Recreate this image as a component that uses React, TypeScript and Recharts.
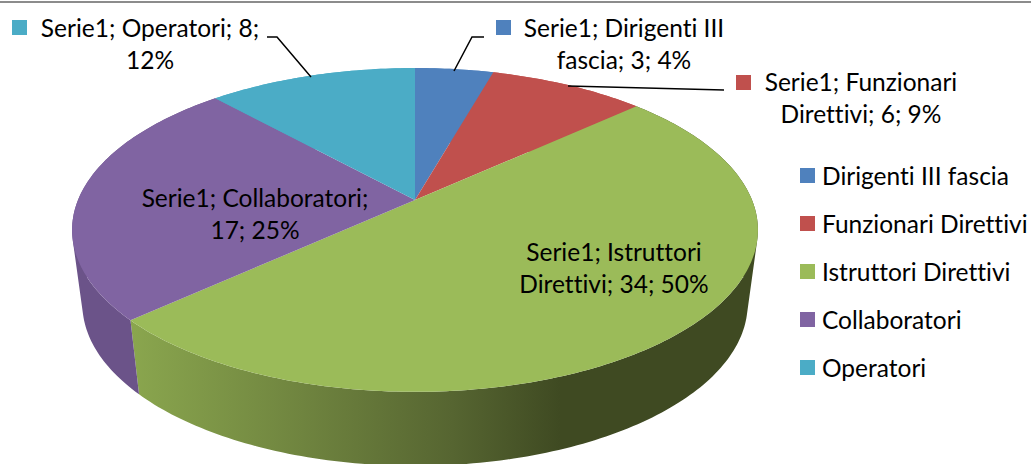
import { Legend, Pie, PieChart } from 'recharts';

const categories = ['Dirigenti III fascia', 'Funzionari Direttivi', 'Istruttori Direttivi', 'Collaboratori', 'Operatori'];
const values = [3, 6, 34, 17, 8];
const colors = ['#4f81bd', '#c0504d', '#9bbb59', '#8064a2', '#4bacc6'];
const seriesName = 'Serie1';

const chartData = categories.map((name, i) => ({ name, value: values[i], fill: colors[i] }));

// where each data label goes: text centre, swatch, first-line baseline, words on line 1
const labelSpots = [
  { cx: 624, y: 37, sx: 496, sy: 20, split: 3, line: 'M484 37H472L454 71' },
  { cx: 861, y: 91, sx: 736, sy: 75, split: 2, line: 'M568 86L724 90' },
  { cx: 614, y: 261, sx: 495, sy: 245, split: 2, line: '' },
  { cx: 255, y: 207, sx: 115, sy: 190, split: 2, line: '' },
  { cx: 150, y: 37, sx: 12, sy: 20, split: 3, line: 'M267 37H277L311 77' },
];

const FONT = 'Lato, sans-serif';
const FONT_SIZE = 24.5;
const TILT = 0.185; // perspective strength
const SQUASH = 0.464; // vertical radius / horizontal radius

// project a pie angle on to the tilted disc
function rim(cx: number, cy: number, r: number, deg: number) {
  const rad = (deg * Math.PI) / 180;
  const x = Math.cos(rad);
  const y = -Math.sin(rad);
  const d = 1 - TILT * y;
  return { x: cx + (r * x) / d, y: cy + (r * SQUASH * y) / d };
}

function arcPoints(p: any) {
  const pts = [];
  const steps = Math.max(2, Math.ceil(Math.abs(p.endAngle - p.startAngle)));
  for (let i = 0; i <= steps; i++) {
    pts.push(rim(p.cx, p.cy, p.outerRadius, p.startAngle + ((p.endAngle - p.startAngle) * i) / steps));
  }
  return pts;
}

function TopFace(p: any) {
  const pts = arcPoints(p);
  const d = `M${p.cx} ${p.cy}L` + pts.map((q) => `${q.x} ${q.y}`).join('L') + 'Z';
  return <path d={d} fill={p.fill} />;
}

function SideWall(p: any) {
  const pts = arcPoints(p);
  const drop = (q: any) => ({ x: p.cx + (q.x - p.cx) * 0.97, y: q.y + 74 });
  // one quad per step, all wound the same way so the fill is their union
  let d = '';
  for (let i = 0; i < pts.length - 1; i++) {
    let quad = [pts[i], pts[i + 1], drop(pts[i + 1]), drop(pts[i])];
    let area = 0;
    quad.forEach((q, j) => {
      const n = quad[(j + 1) % 4];
      area += q.x * n.y - n.x * q.y;
    });
    if (area < 0) quad = quad.reverse();
    d += 'M' + quad.map((q) => `${q.x} ${q.y}`).join('L') + 'Z';
  }
  const isGreen = p.index === 2;
  return (
    <g>
      {isGreen && (
        <defs>
          <linearGradient id="greenWall" gradientUnits="userSpaceOnUse" x1="131" y1="0" x2="560" y2="0">
            <stop offset="0" stopColor="#8aa64e" />
            <stop offset="0.4" stopColor="#6f843f" />
            <stop offset="0.75" stopColor="#566531" />
            <stop offset="1" stopColor="#3f4a22" />
          </linearGradient>
        </defs>
      )}
      <path d={d} fill={isGreen ? 'url(#greenWall)' : p.index === 3 ? '#6b5389' : p.fill} />
    </g>
  );
}

function DataLabel(p: any) {
  const spot = labelSpots[p.index];
  const pct = Math.round((values[p.index] / values.reduce((a, b) => a + b, 0)) * 100);
  const words = `${seriesName}; ${categories[p.index]}; ${values[p.index]}; ${pct}%`.split(' ');
  const first = words.slice(0, spot.split).join(' ');
  const second = words.slice(spot.split).join(' ');
  const textStyle = { fontVariantLigatures: 'none' };
  return (
    <g>
      {spot.line && <path d={spot.line} fill="none" stroke="#000" strokeWidth={1.5} />}
      <rect x={spot.sx} y={spot.sy} width={15} height={15} fill={colors[p.index]} />
      <text x={spot.cx} y={spot.y} textAnchor="middle" fontFamily={FONT} fontSize={FONT_SIZE} fill="#000" style={textStyle}>{first}</text>
      <text x={spot.cx} y={spot.y + 32} textAnchor="middle" fontFamily={FONT} fontSize={FONT_SIZE} fill="#000" style={textStyle}>{second}</text>
    </g>
  );
}

function LegendList() {
  return (
    <div style={{ fontFamily: FONT, fontSize: FONT_SIZE, color: '#000', fontVariantLigatures: 'none' }}>
      {categories.map((name, i) => (
        <div key={name} style={{ display: 'flex', alignItems: 'center', height: 48.2, whiteSpace: 'nowrap' }}>
          <span style={{ width: 15, height: 15, background: colors[i], marginRight: 7 }} />
          {name}
        </div>
      ))}
    </div>
  );
}

export default function App() {
  return (
    <div style={{ position: 'absolute', left: 0, top: 0, width: 1031, height: 464, overflow: 'hidden', background: '#fff' }}>
      <div style={{ position: 'absolute', left: 0, top: 1, width: 1031, height: 2, background: '#8c8c8c' }} />
      <PieChart width={1031} height={464} margin={{ top: 0, right: 0, bottom: 0, left: 0 }}>
        <Pie
          data={chartData}
          dataKey="value"
          nameKey="name"
          cx={415}
          cy={200}
          innerRadius={0}
          outerRadius={337}
          startAngle={90}
          endAngle={-270}
          stroke="none"
          legendType="none"
          shape={SideWall}
          isAnimationActive={false}
        />
        <Pie
          data={chartData}
          dataKey="value"
          nameKey="name"
          cx={415}
          cy={200}
          innerRadius={0}
          outerRadius={337}
          startAngle={90}
          endAngle={-270}
          stroke="none"
          shape={TopFace}
          label={DataLabel}
          labelLine={false}
          isAnimationActive={false}
        />
        <Legend
          content={LegendList}
          layout="vertical"
          wrapperStyle={{ position: 'absolute', left: 800, top: 151, width: 231, height: 241 }}
        />
      </PieChart>
    </div>
  );
}
